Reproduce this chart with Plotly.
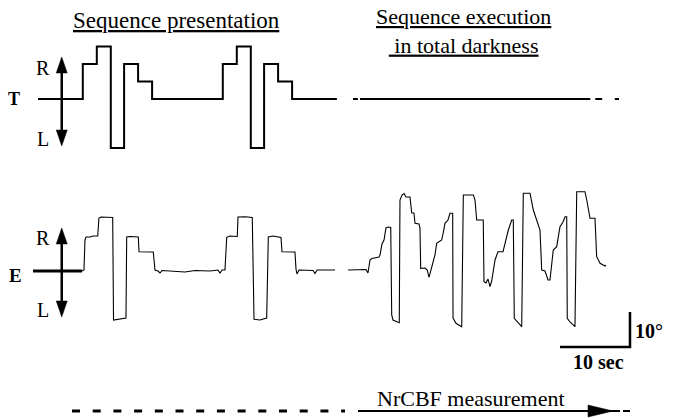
import plotly.graph_objects as go

# ---------------- data ----------------
# Target (T) step sequence: time (s) of each step and level (deg)
t_steps_time = [0, 6.4, 8.4, 10.4, 12.3, 14.3, 16.3, 26.4, 28.4, 30.4, 32.3, 34.3, 36.3, 42.7]
t_steps_deg = [0, 10, 15, -14, 10, 5, 0, 10, 15, -14, 10, 5, 0, 0]
# T during darkness (no target): segments of baseline (start, end)
t_dark_segments = [(45.0, 45.7), (46.0, 78.9), (79.6, 80.6), (82.4, 83.0)]

# Eye position (E), presentation phase
e1_time = [6.29, 6.57, 6.71, 6.86, 7.43, 7.86, 8.53, 8.71, 9.0, 9.71, 10.67, 10.79, 11.71, 12.57,
           12.67, 13.14, 14.33, 14.43, 16.47, 16.71, 17.14, 17.43, 17.71, 19.57, 21.0, 22.43, 24.57,
           25.71, 26.0, 26.29, 26.71, 26.96, 27.43, 28.47, 28.57, 29.57, 30.61, 30.86, 31.71, 32.67,
           32.9, 33.57, 34.71, 34.86, 36.71, 36.86, 37.0, 37.29, 39.29, 39.57, 39.86, 42.43]
e1_deg = [0, 0.3, 8.86, 9.71, 9.71, 10.0, 10.0, 15.14, 15.43, 15.29, 15.29, -14.0, -13.71, -13.43,
          9.71, 9.86, 9.71, 5.51, 5.43, 0.29, 0, -0.57, 0.14, 0, -0.29, 0.14, 0,
          0.29, -0.57, 0.29, 0.29, 9.63, 10.0, 9.86, 15.43, 15.51, 15.29, -13.8, -14.0, -13.43,
          9.71, 10.0, 9.57, 5.51, 5.43, 0.49, -0.86, 0.29, 0.14, -0.71, 0.29, 0.29]
# Eye position (E), execution in darkness
e2_time = [44.29, 46.0, 46.86, 47.14, 47.43, 47.71, 48.71, 48.86, 49.14, 49.43, 49.71, 50.0, 50.39,
           50.53, 50.71, 51.61, 51.71, 52.0, 52.29, 52.57, 53.14, 53.39, 53.71, 53.86, 54.43, 54.57,
           54.67, 55.29, 55.61, 55.86, 56.14, 56.47, 56.71, 56.96, 57.67, 57.86, 58.14, 58.57, 58.86,
           59.24, 59.29, 59.71, 60.53, 60.76, 61.43, 62.19, 62.43, 62.67, 63.61, 63.71, 64.0, 64.29,
           64.57, 64.81, 65.29, 65.71, 66.43, 66.71, 67.19, 67.67, 67.9, 68.04, 68.57, 69.1, 69.33,
           69.86, 70.29, 70.76, 71.24, 71.71, 71.96, 72.43, 72.86, 73.14, 73.61, 74.1, 74.57, 75.0,
           75.29, 75.53, 75.61, 76.0, 76.71, 76.96, 77.43, 78.14, 78.39, 78.86, 79.57, 79.81, 80.29,
           81.0, 81.14]
e2_deg = [0.29, 0.43, 0.43, -0.57, 3.14, 3.57, 4.0, 4.57, 7.71, 8.86, 12.29, 12.57, 12.43,
          -12.57, -14.0, -14.77, 20.29, 21.71, 22.14, 21.14, 21.14, 16.57, 16.57, 13.63, 13.43, 12.2,
          0.77, 0.86, 0.29, -1.8, 0.29, 3.14, 4.57, 7.91, 8.86, 10.57, 13.63, 14.57, 16.49,
          16.49, -13.43, -14.94, -15.91, 21.71, 21.71, 21.71, 20.29, 14.57, 14.57, -3.06, -3.43, -2.29,
          -4.49, -2.86, 3.14, 5.51, 5.51, 7.91, 11.71, 14.57, 14.57, -13.51, -14.57, -15.91, 22.2,
          22.29, 22.2, 17.43, 14.57, 11.71, 0.29, 0, -2.57, -2.57, 6.0, 6.94, 12.66, 14.0,
          15.51, 15.51, -13.51, -14.57, -15.91, 22.66, 22.66, 22.66, 20.29, 15.06, 15.06, 4.09, 2.2,
          1.43, 1.71]

# Scale bars
scale_time_s = 10
scale_deg = 10

# NrCBF measurement timeline: dashed part and arrow part (s)
nrcbf_dash = (4.86, 43.86)
nrcbf_arrow = (45.71, 82.14)
nrcbf_tail = (83.57, 84.57)

# ---------------- layout geometry (pixels) ----------------
W, H = 678, 418
PX_PER_S = 7.0
PX_PER_DEG = 3.5
X0_PX = 38          # pixel column of t = 0
T_BASE_PX = 99      # pixel row of T baseline
E_BASE_PX = 271     # pixel row of E baseline

xr = [-X0_PX / PX_PER_S, (W - X0_PX) / PX_PER_S]
yr_T = [-(H - T_BASE_PX) / PX_PER_DEG, T_BASE_PX / PX_PER_DEG]
yr_E = [-(H - E_BASE_PX) / PX_PER_DEG, E_BASE_PX / PX_PER_DEG]

FONT = "Liberation Serif, Times New Roman, serif"
K = "black"

fig = go.Figure()

# T trace (step)
fig.add_trace(go.Scatter(x=t_steps_time, y=t_steps_deg, mode="lines", line=dict(color=K, width=2, shape="hv"),
                         yaxis="y", showlegend=False, hoverinfo="skip"))
dx, dy = [], []
for a, b in t_dark_segments:
    dx += [a, b, None]
    dy += [0, 0, None]
fig.add_trace(go.Scatter(x=dx, y=dy, mode="lines", line=dict(color=K, width=2),
                         yaxis="y", showlegend=False, hoverinfo="skip"))

# E axis stub (thick horizontal line through arrow)
fig.add_trace(go.Scatter(x=[-0.71, 6.29], y=[0, 0], mode="lines", line=dict(color=K, width=3),
                         yaxis="y2", showlegend=False, hoverinfo="skip"))
# E traces
ex = e1_time + [None] + e2_time
ey = e1_deg + [None] + e2_deg
fig.add_trace(go.Scatter(x=ex, y=ey, mode="lines", line=dict(color=K, width=1.1),
                         yaxis="y2", showlegend=False, hoverinfo="skip"))

# Scale bar (10 s, 10 deg)
sb_t0 = 74.57
sb_d0 = -21.7
fig.add_trace(go.Scatter(x=[sb_t0, sb_t0 + scale_time_s, sb_t0 + scale_time_s],
                         y=[sb_d0, sb_d0, sb_d0 + scale_deg], mode="lines",
                         line=dict(color=K, width=2.5), yaxis="y2", showlegend=False, hoverinfo="skip"))

# NrCBF timeline
nr_y = -40.0
fig.add_trace(go.Scatter(x=list(nrcbf_dash), y=[nr_y, nr_y], mode="lines",
                         line=dict(color=K, width=3, dash="8px,12.7px"), yaxis="y2",
                         showlegend=False, hoverinfo="skip"))
fig.add_trace(go.Scatter(x=[nrcbf_arrow[0], nrcbf_arrow[1] + 1.0], y=[nr_y, nr_y], mode="lines",
                         line=dict(color=K, width=2), yaxis="y2", showlegend=False, hoverinfo="skip"))
fig.add_trace(go.Scatter(x=list(nrcbf_tail), y=[nr_y, nr_y], mode="lines",
                         line=dict(color=K, width=2), yaxis="y2", showlegend=False, hoverinfo="skip"))

shapes = []

def head(xa, ya, yref, path):
    shapes.append(dict(type="path", xref="x", yref=yref, xsizemode="pixel", ysizemode="pixel",
                       xanchor=xa, yanchor=ya, path=path, fillcolor=K, line=dict(color=K, width=0.5)))

# vertical R/L arrows
arrow_t = 3.39
for yref, top, bot in [("y", 12.0, -13.43), ("y2", 12.29, -13.14)]:
    shapes.append(dict(type="line", xref="x", yref=yref, x0=arrow_t, x1=arrow_t, y0=bot + 3, y1=top - 3,
                       line=dict(color=K, width=2.5)))
    head(arrow_t, top, yref, "M0,0 L-5.5,-16 L5.5,-16 Z")
    head(arrow_t, bot, yref, "M0,0 L-5.5,16 L5.5,16 Z")

# NrCBF arrowhead
head(nrcbf_arrow[1], nr_y, "y2", "M0,0 L-25,6 L-25,-6 Z")

fig.update_layout(shapes=shapes)

def P(px, py):
    return px / W, 1 - py / H

def txt(s, px, py, size, bold=False, xanchor="center"):
    x, y = P(px, py)
    if bold:
        s = "<b>" + s + "</b>"
    fig.add_annotation(x=x, y=y, xref="paper", yref="paper", text=s, showarrow=False,
                       xanchor=xanchor, yanchor="middle", font=dict(family=FONT, size=size, color=K))

txt("<u>Sequence presentation</u>", 176, 20, 23)
txt("<u>Sequence execution</u><br><u>\u00a0in total darkness</u>", 463, 31, 22)
txt("T", 14, 99, 18, bold=True)
txt("E", 15, 275, 19, bold=True)
txt("R", 43, 67.5, 20)
txt("L", 43, 138.5, 20)
txt("R", 43, 237.5, 20)
txt("L", 43, 310, 20)
txt("10°", 633, 331, 20, bold=True, xanchor="left")
txt("10 sec", 598, 362, 20, bold=True)
txt("NrCBF measurement", 471, 398, 22)

fig.update_layout(
    width=W, height=H, margin=dict(l=0, r=0, t=0, b=0),
    paper_bgcolor="white", plot_bgcolor="white",
    xaxis=dict(range=xr, visible=False, fixedrange=True),
    yaxis=dict(range=yr_T, visible=False, fixedrange=True),
    yaxis2=dict(range=yr_E, visible=False, overlaying="y", fixedrange=True),
    showlegend=False,
)

fig.write_html("out.html")
